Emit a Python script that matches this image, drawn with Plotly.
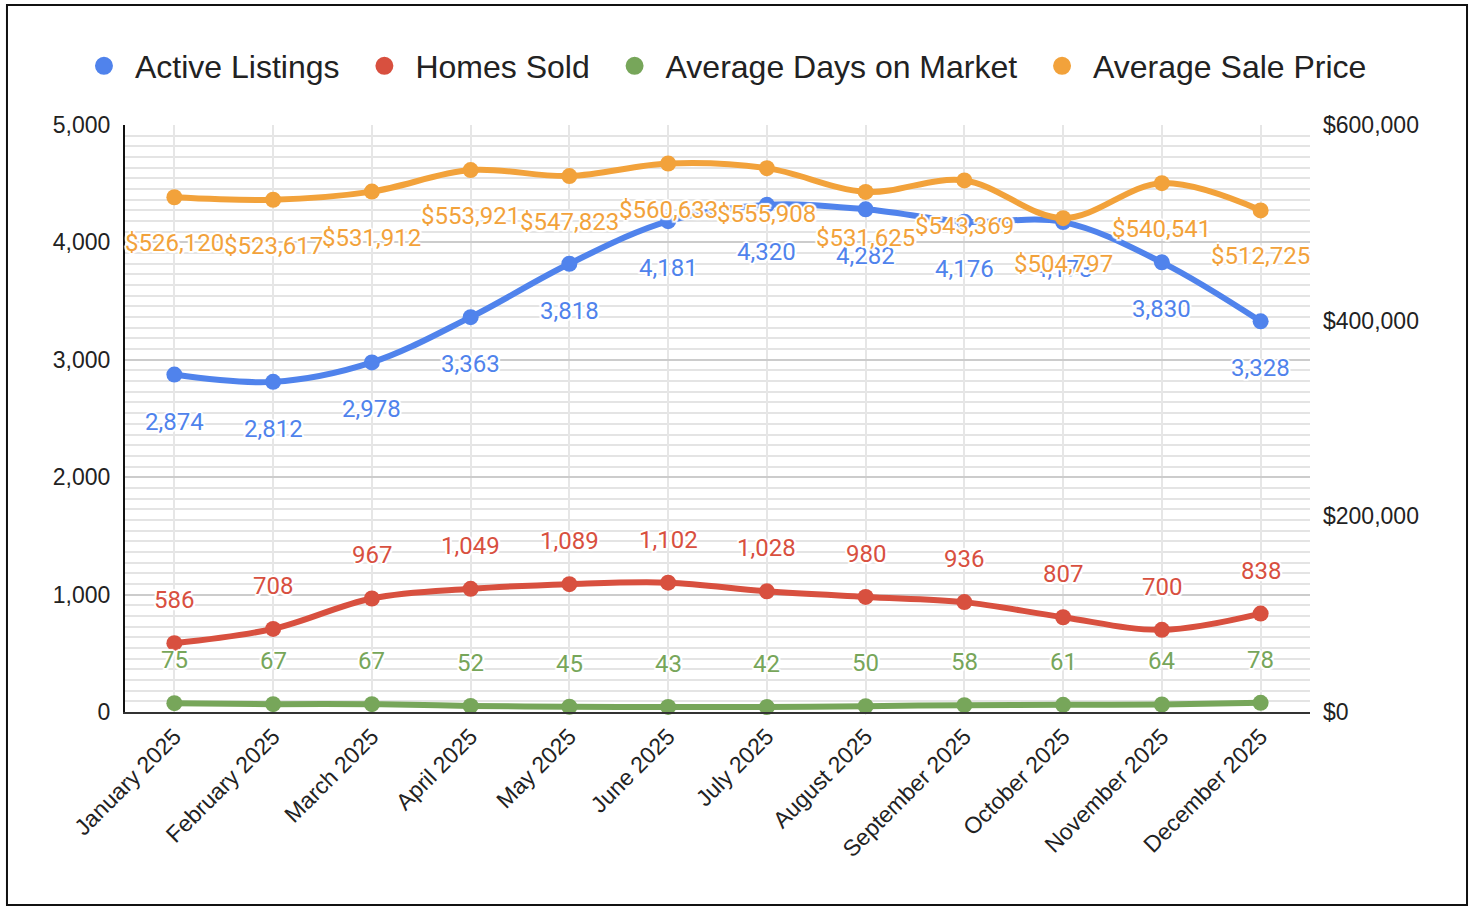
import plotly.graph_objects as go

months = ["January 2025", "February 2025", "March 2025", "April 2025", "May 2025", "June 2025",
          "July 2025", "August 2025", "September 2025", "October 2025", "November 2025", "December 2025"]
active_listings = [2874, 2812, 2978, 3363, 3818, 4181, 4320, 4282, 4176, 4173, 3830, 3328]
homes_sold = [586, 708, 967, 1049, 1089, 1102, 1028, 980, 936, 807, 700, 838]
avg_days = [75, 67, 67, 52, 45, 43, 42, 50, 58, 61, 64, 78]
avg_price = [526120, 523617, 531912, 553921, 547823, 560633, 555908, 531625, 543369, 504797, 540541, 512725]

left_ticks = [0, 1000, 2000, 3000, 4000, 5000]
right_ticks = [0, 200000, 400000, 600000]
right_ticktext = [f"${v:,}" for v in right_ticks]

BLUE = "#5083ec"
RED = "#d8503f"
GREEN = "#77a65a"
ORANGE = "#f2a23b"

series = [
    ("Active Listings", active_listings, BLUE, "y", -47, lambda v: f"{v:,}"),
    ("Homes Sold", homes_sold, RED, "y", 43, lambda v: f"{v:,}"),
    ("Average Days on Market", avg_days, GREEN, "y", 43, lambda v: f"{v:,}"),
    ("Average Sale Price", avg_price, ORANGE, "y2", -46, lambda v: f"${v:,}"),
]

fig = go.Figure()
halo = ("white 2px 0px 1px, white -2px 0px 1px, white 0px 2px 1px, white 0px -2px 1px, "
        "white 1.5px 1.5px 1px, white -1.5px -1.5px 1px, white 1.5px -1.5px 1px, white -1.5px 1.5px 1px")

for name, vals, color, yax, _, _ in series:
    fig.add_trace(go.Scatter(
        x=months, y=vals, name=name, mode="lines+markers",
        line=dict(color=color, width=6, shape="spline", smoothing=1.0),
        marker=dict(color=color, size=16),
        yaxis=yax, showlegend=False, cliponaxis=False,
    ))

pad = "\u00a0"
for i, (name, vals, color, yax, _, _) in enumerate(series):
    fig.add_trace(go.Scatter(
        x=[None], y=[None], name=name + (pad if i < len(series) - 1 else ""), mode="markers",
        marker=dict(color=color, size=16, line=dict(color=color, width=2)),
        yaxis=yax, showlegend=True,
    ))

annotations = []
for name, vals, color, yax, shift, fmt in series:
    for m, v in zip(months, vals):
        annotations.append(dict(
            x=m, y=v, xref="x", yref=yax, text=fmt(v), showarrow=False,
            yshift=shift,
            font=dict(family="Roboto", size=24, color=color, shadow=halo),
        ))

fig.update_layout(
    width=1474, height=912,
    paper_bgcolor="white", plot_bgcolor="white",
    margin=dict(l=125, r=164, t=125, b=200, autoexpand=False),
    font=dict(family="Liberation Sans, Arial", color="#222222"),
    annotations=annotations,
    legend=dict(
        orientation="h", xref="paper", yref="paper",
        x=1.0523, xanchor="right", y=1.1005, yanchor="middle",
        font=dict(size=32, color="#222222"), itemsizing="trace",
        bgcolor="rgba(0,0,0,0)", itemwidth=52,
    ),
    xaxis=dict(
        type="category", range=[-0.5, 11.5], tickangle=-45,
        showgrid=True, gridcolor="#e6e6e6", gridwidth=1.5,
        showline=True, linecolor="#333333", linewidth=2,
        ticks="", tickfont=dict(size=23, color="#222222"),
        zeroline=False,
    ),
    yaxis=dict(
        range=[0, 5000], tickvals=left_ticks, tickformat=",",
        showgrid=True, gridcolor="#cccccc", gridwidth=2,
        minor=dict(dtick=1000 / 11, tick0=0, showgrid=True, gridcolor="#e4e4e4", gridwidth=1.5, ticks=""),
        showline=True, linecolor="#111111", linewidth=2,
        ticks="", tickfont=dict(size=23, color="#222222"),
        zeroline=False, ticklabelstandoff=8,
    ),
    yaxis2=dict(
        range=[0, 600000], tickmode="array", tickvals=right_ticks, ticktext=right_ticktext,
        overlaying="y", side="right", showgrid=False, showline=False,
        ticks="", tickfont=dict(size=23, color="#222222"),
        zeroline=False, ticklabelstandoff=12,
    ),
    shapes=[dict(
        type="rect", xref="paper", yref="paper",
        x0=-0.0996, x1=1.1325, y0=-0.3288, y1=1.2044,
        line=dict(color="#111111", width=2), fillcolor="rgba(0,0,0,0)", layer="below",
    )],
)

fig.write_html("out.html", config={"displayModeBar": False},
               post_script="document.body.style.margin='0';")
